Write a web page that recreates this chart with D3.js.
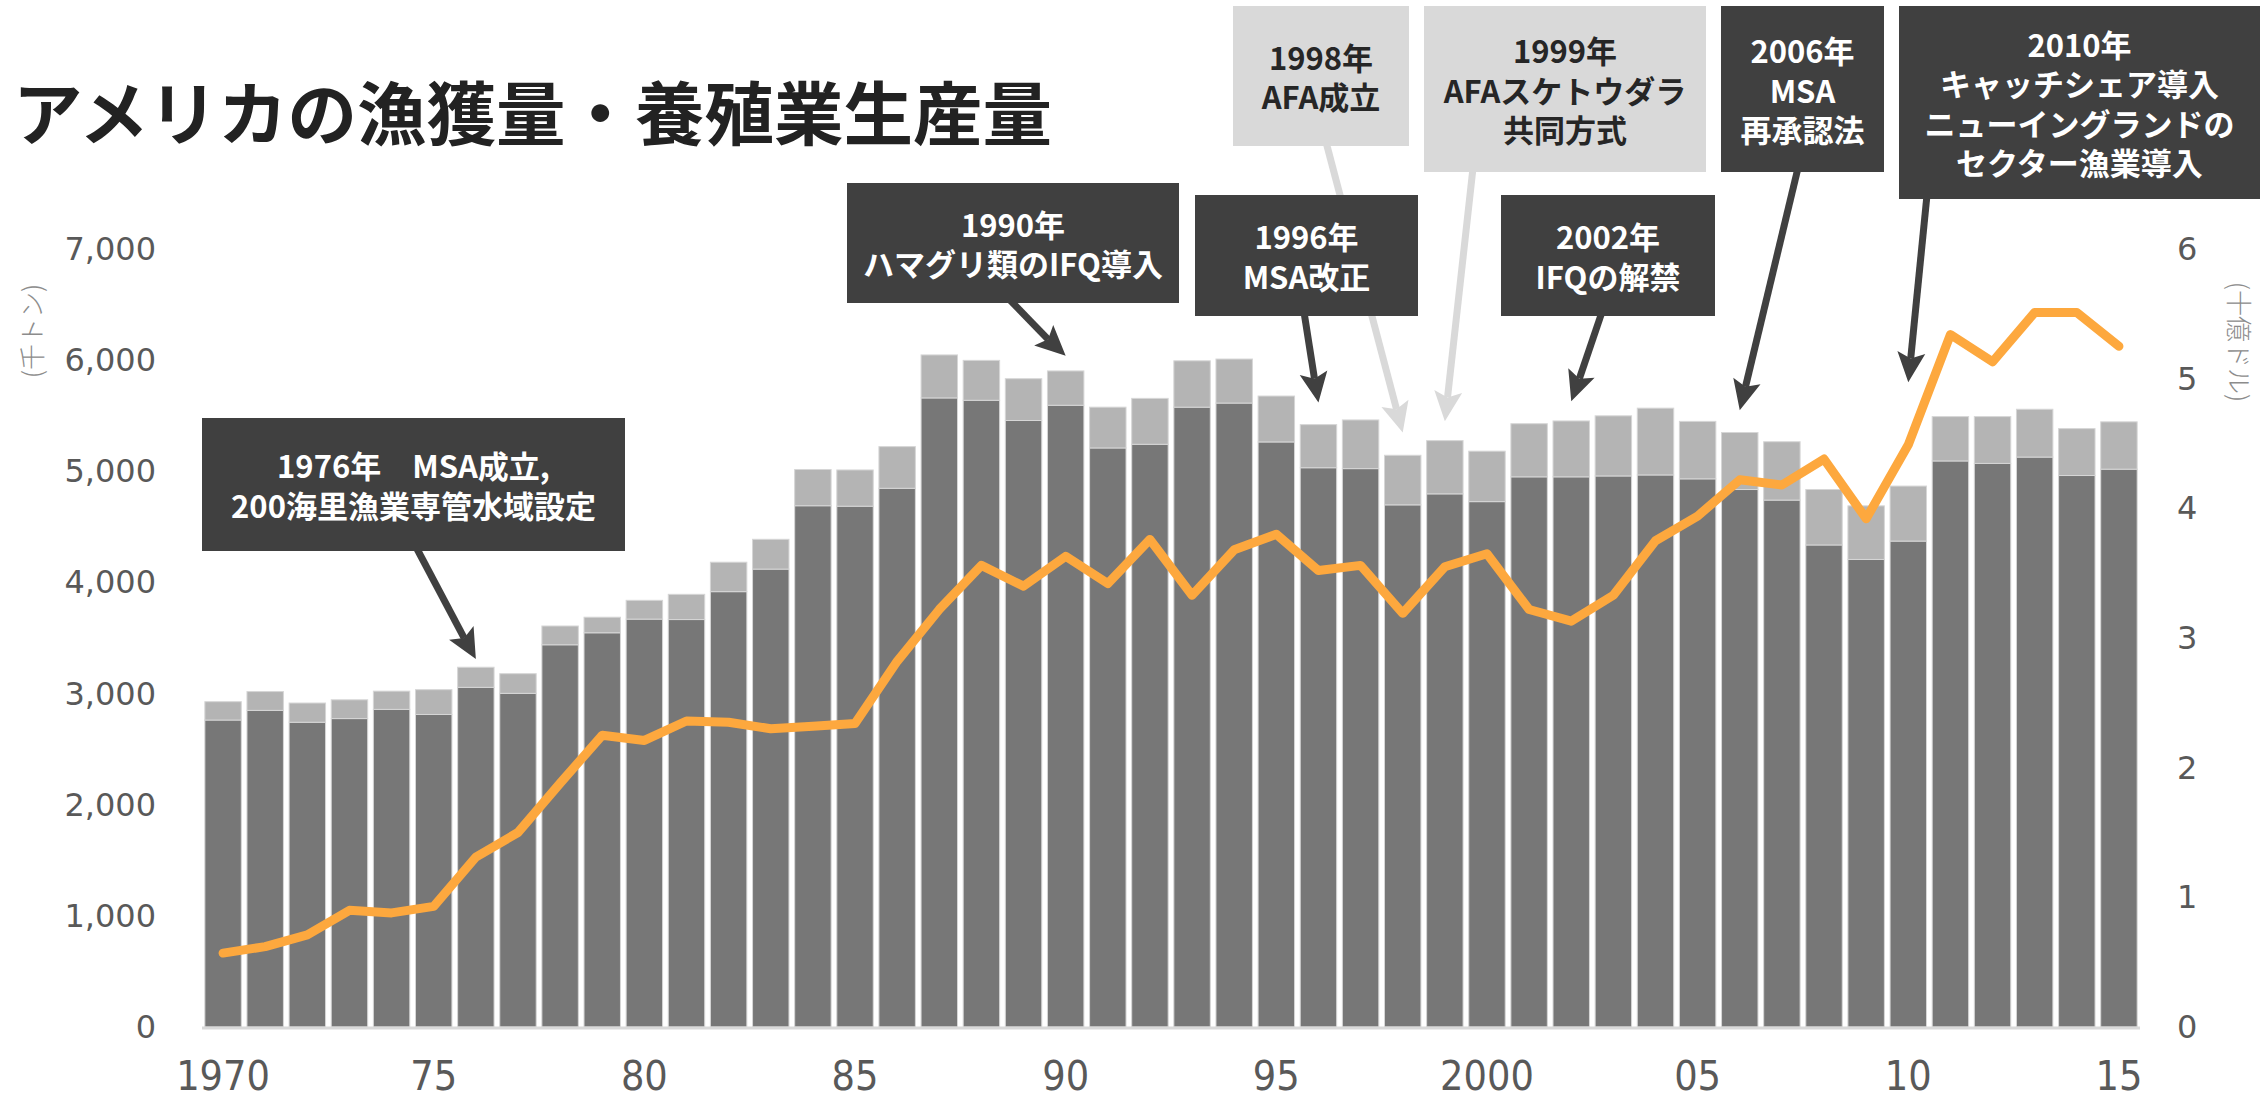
<!DOCTYPE html>
<html>

<head>
    <meta charset="utf-8">
    <script src="https://d3js.org/d3.v7.min.js"></script>
    <style>
        body {
            margin: 0;
            background-color: #ffffff;
        }

        .title {
            font-family: "Noto Sans CJK JP", sans-serif;
            font-weight: 700;
            font-size: 69.5px;
            fill: #222222;
        }

        .tick-y {
            font-family: "DejaVu Sans", sans-serif;
            font-size: 32px;
            fill: #595959;
        }

        .tick-x {
            font-family: "Liberation Sans Narrow", "DejaVu Sans Condensed", sans-serif;
            font-size: 41px;
            fill: #595959;
        }

        .unit {
            font-family: "Noto Sans CJK JP", sans-serif;
            font-weight: 300;
            font-size: 26px;
            fill: #8c8c8c;
        }

        .note {
            font-family: "Noto Sans CJK JP", sans-serif;
            font-weight: 700;
            font-size: 31px;
        }

        .value-line {
            fill: none;
            stroke: #fda83e;
            stroke-width: 9px;
            stroke-linejoin: round;
            stroke-linecap: round;
        }
    </style>
</head>

<body>
    <svg width="2260" height="1095"></svg>
    <script>
        // years (categories)
        var years = [1970, 1971, 1972, 1973, 1974, 1975, 1976, 1977, 1978, 1979,
            1980, 1981, 1982, 1983, 1984, 1985, 1986, 1987, 1988, 1989,
            1990, 1991, 1992, 1993, 1994, 1995, 1996, 1997, 1998, 1999,
            2000, 2001, 2002, 2003, 2004, 2005, 2006, 2007, 2008, 2009,
            2010, 2011, 2012, 2013, 2014, 2015];

        // 漁獲量 (千トン)
        var capture = [2762, 2849, 2742, 2775, 2858, 2812, 3056, 3002, 3439, 3547,
            3670, 3666, 3917, 4120, 4690, 4686, 4847, 5660, 5639, 5457,
            5594, 5210, 5243, 5577, 5614, 5264, 5032, 5024, 4698, 4797,
            4727, 4950, 4950, 4958, 4967, 4932, 4836, 4741, 4337, 4207,
            4372, 5093, 5071, 5128, 4962, 5019];

        // 養殖業生産量 (千トン)
        var aquaculture = [165, 169, 173, 169, 164, 223, 181, 177, 169, 140,
            169, 227, 265, 268, 326, 326, 375, 387, 359, 376,
            309, 367, 413, 417, 396, 413, 388, 438, 446, 479,
            454, 478, 503, 541, 601, 517, 513, 525, 499, 482,
            495, 399, 421, 430, 422, 426];

        // 生産額 (十億ドル)
        var value = [0.57, 0.62, 0.71, 0.90, 0.88, 0.93, 1.31, 1.50, 1.88, 2.25,
            2.21, 2.36, 2.35, 2.30, 2.32, 2.34, 2.82, 3.22, 3.56, 3.40,
            3.63, 3.42, 3.76, 3.33, 3.68, 3.80, 3.52, 3.56, 3.19, 3.55,
            3.65, 3.22, 3.13, 3.33, 3.75, 3.94, 4.22, 4.18, 4.38, 3.92,
            4.49, 5.34, 5.13, 5.51, 5.51, 5.25];

        var leftTicks = [0, 1000, 2000, 3000, 4000, 5000, 6000, 7000];
        var rightTicks = [0, 1, 2, 3, 4, 5, 6];
        var xTickYears = [1970, 1975, 1980, 1985, 1990, 1995, 2000, 2005, 2010, 2015];
        var xTickLabels = ["1970", "75", "80", "85", "90", "95", "2000", "05", "10", "15"];

        // annotations: year pointed at, level of arrow tip (千トン), text lines
        var notes = [
            { year: 1976, tip: 3310, lines: ["1976年　MSA成立,", "200海里漁業専管水域設定"], dark: true, box: [202, 418, 423, 133], from: 416 },
            { year: 1990, tip: 6040, lines: ["1990年", "ハマグリ類のIFQ導入"], dark: true, box: [847, 183, 332, 120], from: 1009 },
            { year: 1996, tip: 5620, lines: ["1996年", "MSA改正"], dark: true, box: [1195, 195, 223, 121], from: 1304 },
            { year: 1998, tip: 5350, lines: ["1998年", "AFA成立"], dark: false, box: [1233, 6, 176, 140], from: 1326 },
            { year: 1999, tip: 5450, lines: ["1999年", "AFAスケトウダラ", "共同方式"], dark: false, box: [1424, 6, 282, 166], from: 1473 },
            { year: 2002, tip: 5630, lines: ["2002年", "IFQの解禁"], dark: true, box: [1501, 195, 214, 121], from: 1602 },
            { year: 2006, tip: 5550, lines: ["2006年", "MSA", "再承認法"], dark: true, box: [1721, 6, 163, 166], from: 1798 },
            { year: 2010, tip: 5800, lines: ["2010年", "キャッチシェア導入", "ニューイングランドの", "セクター漁業導入"], dark: true, box: [1899, 6, 361, 193], from: 1927 }
        ];

        var svg = d3.select("svg"),
            margin = {
                top: 249,
                right: 120,
                bottom: 68,
                left: 202
            },
            width = +svg.attr("width") - margin.left - margin.right,
            height = +svg.attr("height") - margin.top - margin.bottom;

        var x = d3.scaleBand()
            .domain(years)
            .range([margin.left, margin.left + width])
            .paddingInner(0.135)
            .paddingOuter(0.0675);

        var yL = d3.scaleLinear().domain([0, 7000]).range([margin.top + height, margin.top]);
        var yR = d3.scaleLinear().domain([0, 6]).range([margin.top + height, margin.top]);

        // title
        svg.append("text")
            .attr("class", "title")
            .attr("x", 13)
            .attr("y", 109)
            .attr("dominant-baseline", "central")
            .text("アメリカの漁獲量・養殖業生産量");

        // stacked bars
        var rows = years.map(function (yr, i) {
            return { year: yr, capture: capture[i], aquaculture: aquaculture[i] };
        });
        var stack = d3.stack().keys(["capture", "aquaculture"])(rows);
        var colors = { capture: "#777777", aquaculture: "#b4b4b4" };

        svg.append("g").selectAll("g")
            .data(stack)
            .join("g")
            .attr("fill", function (d) { return colors[d.key]; })
            .selectAll("rect")
            .data(function (d) { return d; })
            .join("rect")
            .attr("x", function (d) { return x(d.data.year); })
            .attr("y", function (d) { return yL(d[1]); })
            .attr("width", x.bandwidth())
            .attr("height", function (d) { return yL(d[0]) - yL(d[1]); })
            .attr("stroke", "#d6d6d6")
            .attr("stroke-width", 1);

        // x axis line
        svg.append("line")
            .attr("x1", margin.left)
            .attr("x2", margin.left + width)
            .attr("y1", yL(0) + 1)
            .attr("y2", yL(0) + 1)
            .attr("stroke", "#d9d9d9")
            .attr("stroke-width", 3);

        // value line
        var line = d3.line()
            .x(function (d, i) { return x(years[i]) + x.bandwidth() / 2; })
            .y(function (d) { return yR(d); });

        svg.append("path")
            .datum(value)
            .attr("class", "value-line")
            .attr("d", line);

        // left ticks
        svg.append("g").selectAll("text")
            .data(leftTicks)
            .join("text")
            .attr("class", "tick-y")
            .attr("x", 156)
            .attr("y", function (d) { return yL(d); })
            .attr("text-anchor", "end")
            .attr("dominant-baseline", "central")
            .text(d3.format(","));

        // right ticks
        svg.append("g").selectAll("text")
            .data(rightTicks)
            .join("text")
            .attr("class", "tick-y")
            .attr("x", 2177)
            .attr("y", function (d) { return yR(d); })
            .attr("text-anchor", "start")
            .attr("dominant-baseline", "central")
            .text(function (d) { return d; });

        // x ticks
        svg.append("g").selectAll("text")
            .data(xTickYears)
            .join("text")
            .attr("class", "tick-x")
            .attr("x", function (d) { return x(d) + x.bandwidth() / 2; })
            .attr("y", 1076)
            .attr("text-anchor", "middle")
            .attr("dominant-baseline", "central")
            .text(function (d, i) { return xTickLabels[i]; });

        // unit labels
        svg.append("text")
            .attr("class", "unit")
            .attr("transform", "translate(30,331) rotate(-90)")
            .attr("text-anchor", "middle")
            .attr("dominant-baseline", "central")
            .text("(千トン)");

        svg.append("text")
            .attr("class", "unit")
            .attr("transform", "translate(2240,342) rotate(90)")
            .attr("text-anchor", "middle")
            .attr("dominant-baseline", "central")
            .text("(十億ドル)");

        // annotations: arrows first, boxes on top of them
        var arrowG = svg.append("g");
        var boxG = svg.append("g");

        notes.forEach(function (n) {
            var col = n.dark ? "#404040" : "#d9d9d9";
            var bx = n.box[0], by = n.box[1], bw = n.box[2], bh = n.box[3];

            // arrow from the box bottom to just above the bar
            var x1 = n.from, y1 = by + bh;
            var x2 = x(n.year) + x.bandwidth() / 2, y2 = yL(n.tip);
            var a = Math.atan2(y2 - y1, x2 - x1);
            var L = 30, W = 14, N = 24;
            var ux = Math.cos(a), uy = Math.sin(a);
            var px = -uy, py = ux;
            var bxp = x2 - ux * L, byp = y2 - uy * L;

            arrowG.append("line")
                .attr("x1", x1).attr("y1", y1 - 4)
                .attr("x2", x2 - ux * N).attr("y2", y2 - uy * N)
                .attr("stroke", col)
                .attr("stroke-width", 7);

            arrowG.append("path")
                .attr("d", "M" + x2 + "," + y2 +
                    "L" + (bxp + px * W) + "," + (byp + py * W) +
                    "L" + (x2 - ux * N) + "," + (y2 - uy * N) +
                    "L" + (bxp - px * W) + "," + (byp - py * W) + "Z")
                .attr("fill", col);

            boxG.append("rect")
                .attr("x", bx).attr("y", by)
                .attr("width", bw).attr("height", bh)
                .attr("fill", col);

            var lh = 39.5;
            var cy = by + bh / 2 - (n.lines.length - 1) * lh / 2;
            boxG.append("g").selectAll("text")
                .data(n.lines)
                .join("text")
                .attr("class", "note")
                .attr("x", bx + bw / 2)
                .attr("y", function (d, i) { return cy + i * lh; })
                .attr("text-anchor", "middle")
                .attr("dominant-baseline", "central")
                .attr("fill", n.dark ? "#ffffff" : "#262626")
                .text(function (d) { return d; });
        });
    </script>
</body>

</html>
